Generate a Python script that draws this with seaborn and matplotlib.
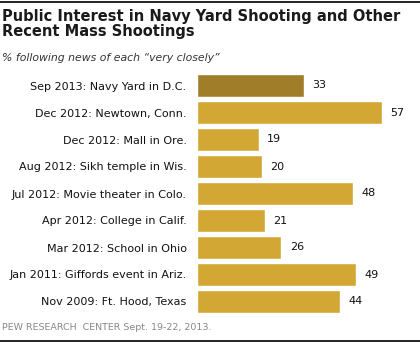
import matplotlib
matplotlib.use("Agg")
import matplotlib.pyplot as plt
import seaborn as sns
import pandas as pd

labels = [
    "Sep 2013: Navy Yard in D.C.",
    "Dec 2012: Newtown, Conn.",
    "Dec 2012: Mall in Ore.",
    "Aug 2012: Sikh temple in Wis.",
    "Jul 2012: Movie theater in Colo.",
    "Apr 2012: College in Calif.",
    "Mar 2012: School in Ohio",
    "Jan 2011: Giffords event in Ariz.",
    "Nov 2009: Ft. Hood, Texas",
]
values = [33, 57, 19, 20, 48, 21, 26, 49, 44]
bar_colors = ["#A07E29"] + ["#D3A733"] * 8

sns.set_theme(style="white")
plt.rcParams["font.family"] = ["DejaVu Sans"]

df = pd.DataFrame({"label": labels, "value": values})

fig = plt.figure(figsize=(4.2, 3.43), dpi=100)
ax = fig.add_axes([197 / 420, 1 - 315 / 343, 220.66 / 420, 243 / 343])

sns.barplot(data=df, x="value", y="label", hue="label", palette=bar_colors,
            width=0.85, saturation=1, legend=False, ax=ax, orient="h")

ax.set_xlim(0, 68)
ax.set_ylim(8.5, -0.5)
ax.set_xlabel("")
ax.set_ylabel("")
ax.set_xticks([])
for s in ax.spines.values():
    s.set_visible(False)
ax.tick_params(axis="y", length=0, pad=7.5, labelsize=8, labelcolor="#111111")

for i, v in enumerate(values):
    ax.annotate(str(v), xy=(v, i), xytext=(6, 0), textcoords="offset points",
                ha="left", va="center", fontsize=8, color="#111111")

fig.text(2 / 420, 1 - 9 / 343, "Public Interest in Navy Yard Shooting and Other\nRecent Mass Shootings",
         ha="left", va="top", fontsize=10.5, fontweight="bold", color="#1a1a1a", linespacing=1.0)
fig.text(2 / 420, 1 - 58 / 343, "% following news of each \u201cvery closely\u201d",
         ha="left", va="center", fontsize=7.8, style="italic", color="#333333")
fig.text(2 / 420, 1 - 328 / 343, "PEW RESEARCH  CENTER Sept. 19-22, 2013.",
         ha="left", va="center", fontsize=6.8, color="#888888")

fig.add_artist(plt.Line2D([0, 1], [1 - 1.5 / 343, 1 - 1.5 / 343], color="black", lw=1.2,
                          transform=fig.transFigure))
fig.add_artist(plt.Line2D([0, 1], [1 - 340.5 / 343, 1 - 340.5 / 343], color="black", lw=1.2,
                          transform=fig.transFigure))

fig.savefig("out.png", dpi=100)
